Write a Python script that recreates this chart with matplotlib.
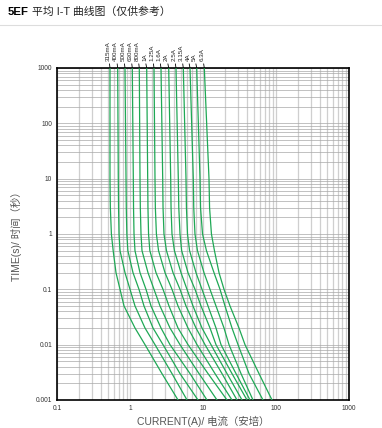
import matplotlib
matplotlib.use('Agg')
from matplotlib import pyplot as plt
from matplotlib.ticker import LogLocator, FixedLocator, NullFormatter

plt.rcParams['font.family'] = ['Liberation Sans', 'Noto Sans CJK SC', 'DejaVu Sans']

# fuse ratings and read-off curve points (current in A at each time in s)
ratings = ['315mA', '400mA', '500mA', '630mA', '800mA', '1A', '1.25A', '1.6A',
           '2A', '2.5A', '3.15A', '4A', '5A', '6.3A']
times = [1000, 10, 3, 1, 0.5, 0.2, 0.1, 0.05, 0.02, 0.01, 0.003, 0.001]

i_315mA = [0.532, 0.532, 0.538, 0.556, 0.588, 0.643, 0.730, 0.828, 1.171, 1.605, 2.74, 4.55]
i_400mA = [0.678, 0.691, 0.697, 0.707, 0.730, 0.854, 1.0, 1.171, 1.605, 2.200, 3.76, 6.04]
i_500mA = [0.854, 0.882, 0.889, 0.905, 0.935, 1.099, 1.328, 1.555, 2.066, 2.832, 4.84, 8.54]
i_630mA = [1.075, 1.110, 1.118, 1.135, 1.170, 1.371, 1.656, 1.940, 2.659, 3.531, 6.64, 11.34]
i_800mA = [1.341, 1.371, 1.385, 1.415, 1.460, 1.764, 2.132, 2.576, 3.531, 4.841, 8.82, 15.55]
i_1A = [1.693, 1.747, 1.762, 1.795, 1.870, 2.271, 2.832, 3.422, 4.545, 6.230, 11.71, 21.32]
i_1_25A = [2.132, 2.200, 2.225, 2.300, 2.460, 3.017, 3.761, 4.545, 6.230, 8.277, 14.60, 24.96]
i_1_6A = [2.659, 2.805, 2.835, 2.920, 3.160, 3.882, 4.841, 5.848, 8.019, 10.65, 18.21, 29.23]
i_2A = [3.39, 3.610, 3.650, 3.760, 4.060, 4.996, 6.036, 7.295, 9.690, 12.87, 21.32, 34.22]
i_2_5A = [4.267, 4.588, 4.660, 4.840, 5.100, 6.230, 7.770, 9.389, 12.47, 15.07, 24.96, 40.06]
i_3_15A = [5.373, 5.848, 5.930, 6.130, 6.550, 8.019, 9.690, 11.71, 15.07, 17.65, 28.32, 44.05]
i_4A = [6.636, 7.364, 7.470, 7.760, 8.400, 10.32, 12.47, 15.07, 19.40, 22.71, 33.16, 48.41]
i_5A = [8.199, 9.098, 9.250, 9.850, 11.15, 14.15, 17.10, 20.02, 24.96, 30.2, 42.67, 66.36]
i_6_3A = [10.42, 12.08, 12.30, 13.05, 14.35, 16.57, 19.40, 23.44, 31.12, 37.61, 58.48, 88.16]

curves = [i_315mA, i_400mA, i_500mA, i_630mA, i_800mA, i_1A, i_1_25A, i_1_6A,
          i_2A, i_2_5A, i_3_15A, i_4A, i_5A, i_6_3A]

x_ticks = [0.1, 1, 10, 100, 1000]
y_ticks = [0.001, 0.01, 0.1, 1, 10, 100, 1000]

fig = plt.figure(dpi=100, figsize=(3.82, 4.28))
ax = fig.add_axes([57 / 382, 1 - 400 / 428, 292 / 382, 332 / 428])
ax.set_xscale('log')
ax.set_yscale('log')
ax.set_xlim(0.1, 1000)
ax.set_ylim(0.001, 1000)

for cur in curves:
    ax.plot(cur, times, c='#1fa855', lw=0.9, zorder=3)

# labels above the top spine with small leader lines
for name, cur in zip(ratings, curves):
    ax.annotate(name, xy=(cur[0], 1000), xytext=(-1.5, 5), textcoords='offset points',
                rotation=90, ha='center', va='bottom', fontsize=4.5, color='#222222',
                arrowprops=dict(arrowstyle='-', lw=0.6, color='black',
                                shrinkA=0, shrinkB=0),
                annotation_clip=False)

ax.xaxis.set_major_locator(FixedLocator(x_ticks))
ax.yaxis.set_major_locator(FixedLocator(y_ticks))
ax.set_xticklabels([str(v) if v < 1 else str(int(v)) for v in x_ticks])
ax.set_yticklabels([str(v) if v < 1 else str(int(v)) for v in y_ticks])
ax.xaxis.set_minor_locator(LogLocator(base=10, subs=range(2, 10), numticks=20))
ax.yaxis.set_minor_locator(LogLocator(base=10, subs=range(2, 10), numticks=20))
ax.xaxis.set_minor_formatter(NullFormatter())
ax.yaxis.set_minor_formatter(NullFormatter())
ax.tick_params(axis='both', which='both', length=0, labelsize=4.8,
               labelcolor='#333333', pad=3.5)

ax.grid(True, axis='x', which='both', color='#cfcfcf', lw=0.9)
ax.grid(True, axis='y', which='both', color='#a8a8a8', lw=0.5)
ax.set_axisbelow(True)
for sp in ax.spines.values():
    sp.set_linewidth(1.2)
    sp.set_color('black')

ax.set_xlabel('CURRENT(A)/ 电流（安培）', fontsize=7.5, color='#555555', labelpad=3)
ax.set_ylabel('TIME(s)/ 时间（秒）', fontsize=7.5, color='#555555', labelpad=10)

# page title and separator line
t1 = fig.text(8 / 382, 1 - 12 / 428, '5EF', fontsize=8.2, fontweight='bold',
              color='black', va='center', ha='left')
fig.canvas.draw()
bb = t1.get_window_extent()
fig.text((bb.x1 + 3) / 382, 1 - 12 / 428, '平均 I-T 曲线图（仅供参考）', fontsize=7.8,
         color='#222222', va='center', ha='left')
fig.add_artist(plt.Line2D([0, 1], [1 - 25 / 428, 1 - 25 / 428],
                          transform=fig.transFigure, color='#dddddd', lw=0.8))

plt.savefig('out.png', dpi=100)
